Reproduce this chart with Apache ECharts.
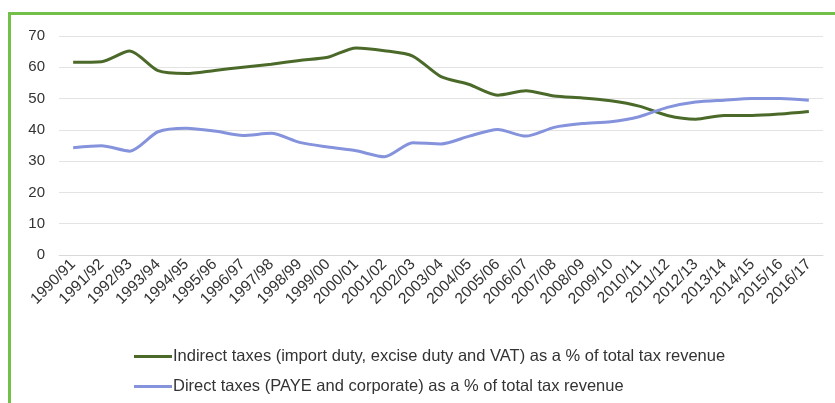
<!DOCTYPE html>
<html>
<head>
<meta charset="utf-8">
<script src="https://cdn.jsdelivr.net/npm/echarts@6/dist/echarts.min.js"></script>
<style>
  html, body { margin: 0; padding: 0; background: #fff; }
  #frame {
    position: absolute; left: 8px; top: 12px; width: 900px; height: 500px;
    border-left: 3px solid #72c04a; border-top: 3px solid #72c04a;
  }
  #main { position: absolute; left: 0; top: 0; width: 835px; height: 403px; }
</style>
</head>
<body>
<div id="frame"></div>
<div id="main"></div>
<script>
// fiscal years
var years = ['1990/91', '1991/92', '1992/93', '1993/94', '1994/95', '1995/96', '1996/97',
  '1997/98', '1998/99', '1999/00', '2000/01', '2001/02', '2002/03', '2003/04', '2004/05',
  '2005/06', '2006/07', '2007/08', '2008/09', '2009/10', '2010/11', '2011/12', '2012/13',
  '2013/14', '2014/15', '2015/16', '2016/17']

// indirect taxes % of total
var indirectTax = [61.6, 61.8, 65.2, 58.9, 58.0, 59.0, 60.0, 61.0, 62.2, 63.2, 66.2, 65.3,
  63.6, 57.0, 54.5, 51.1, 52.5, 50.8, 50.2, 49.3, 47.6, 44.6, 43.4, 44.6, 44.6, 45.1, 45.9]

// direct taxes % of total
var directTax = [34.3, 34.9, 33.2, 39.4, 40.5, 39.6, 38.2, 38.9, 36.0, 34.5, 33.3, 31.4,
  35.9, 35.5, 38.0, 40.1, 38.0, 40.8, 42.0, 42.6, 44.2, 47.2, 48.9, 49.5, 50.0, 50.0, 49.5]

var names = [
  'Indirect taxes (import duty, excise duty and VAT) as a % of total tax revenue',
  'Direct taxes (PAYE and corporate) as a % of total tax revenue'
]

var chart = echarts.init(document.getElementById('main'))
var option = {
  animation: false,
  grid: {
    left: 59,
    right: 12,
    top: 36,
    bottom: 148
  },
  legend: {
    orient: 'vertical',
    left: 129,
    top: 343,
    itemGap: 13,
    itemWidth: 38,
    itemHeight: 3,
    icon: 'rect',
    textStyle: {
      color: '#333',
      fontSize: 16.5,
      fontFamily: 'Liberation Sans, Arial, sans-serif',
      padding: [0, 0, 0, -4]
    },
    data: names
  },
  xAxis: {
    type: 'category',
    data: years,
    boundaryGap: true,
    axisTick: { show: false },
    axisLine: { lineStyle: { color: '#d9d9d9' } },
    axisLabel: {
      rotate: 45,
      interval: 0,
      margin: 7,
      color: '#333',
      fontSize: 15.5,
      fontFamily: 'Liberation Sans, Arial, sans-serif'
    }
  },
  yAxis: {
    type: 'value',
    min: 0,
    max: 70,
    interval: 10,
    axisLabel: {
      color: '#333',
      fontSize: 15,
      margin: 14,
      fontFamily: 'Liberation Sans, Arial, sans-serif'
    },
    splitLine: { lineStyle: { color: '#e3e3e3' } }
  },
  series: [
    {
      name: names[0],
      type: 'line',
      data: indirectTax,
      smooth: 0.25,
      symbol: 'none',
      lineStyle: { width: 3, color: '#4b6a2a' },
      itemStyle: { color: '#4b6a2a' }
    },
    {
      name: names[1],
      type: 'line',
      data: directTax,
      smooth: 0.25,
      symbol: 'none',
      lineStyle: { width: 3, color: '#8592dc' },
      itemStyle: { color: '#8592dc' }
    }
  ]
}
chart.setOption(option)
</script>
</body>
</html>
